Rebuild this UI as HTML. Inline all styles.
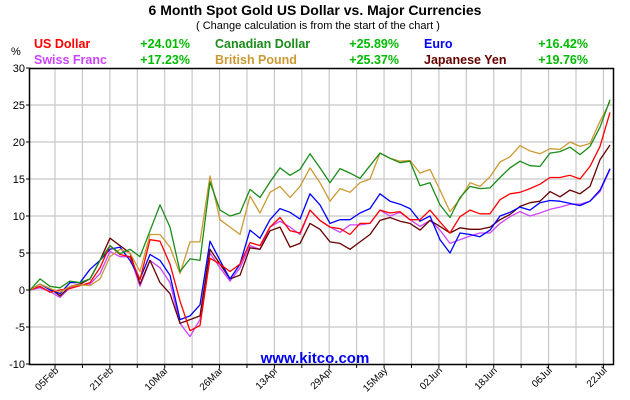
<!DOCTYPE html>
<html><head><meta charset="utf-8"><style>
body{margin:0;background:#fff;}
svg{display:block;font-family:"Liberation Sans",Arial,sans-serif;}
</style></head><body>
<svg id="chart" width="630" height="400" viewBox="0 0 630 400">
<text x="315" y="15" text-anchor="middle" font-size="14" font-weight="bold" fill="#000">6 Month Spot Gold US Dollar vs. Major Currencies</text>
<text x="318" y="29" text-anchor="middle" font-size="11" fill="#000">( Change calculation is from the start of the chart )</text>
<g font-size="12.5" font-weight="bold">
<text x="34" y="48" fill="#ff0000">US Dollar</text>
<text x="190" y="48" text-anchor="end" fill="#00bb00">+24.01%</text>
<text x="215" y="48" fill="#1a8c1a">Canadian Dollar</text>
<text x="399" y="48" text-anchor="end" fill="#00bb00">+25.89%</text>
<text x="424" y="48" fill="#0000ff">Euro</text>
<text x="588" y="48" text-anchor="end" fill="#00bb00">+16.42%</text>
<text x="34" y="64" fill="#cc44ff">Swiss Franc</text>
<text x="190" y="64" text-anchor="end" fill="#00bb00">+17.23%</text>
<text x="215" y="64" fill="#cc9933">British Pound</text>
<text x="399" y="64" text-anchor="end" fill="#00bb00">+25.37%</text>
<text x="424" y="64" fill="#660000">Japanese Yen</text>
<text x="588" y="64" text-anchor="end" fill="#00bb00">+19.76%</text>
</g>
<text x="11" y="55" font-size="11" fill="#000">%</text>
<g id="grid"></g>
<g id="series"></g>
<rect x="29.5" y="68.5" width="584" height="296" fill="none" stroke="#000" stroke-width="1.5"/>
<g id="axes"></g>
<text x="315" y="363" text-anchor="middle" font-size="15" font-weight="bold" fill="#0000ee">www.kitco.com</text>
</svg>
<script>
const yTicks = [30, 25, 20, 15, 10, 5, 0, -5, -10];
const xTickLabels = ["05Feb","21Feb","10Mar","26Mar","13Apr","29Apr","15May","02Jun","18Jun","06Jul","22Jul"];
const usd = [0,0.5,-0.3,0,0.2,0.6,1.0,3.0,6.0,4.8,4.5,1.4,6.8,6.6,3.5,-1.5,-5.5,-4.8,4.3,3.5,2.5,3.5,6.4,6,8.5,9.8,8,7.7,10.8,9.4,8.5,8.3,7.5,9,9,10.8,10.4,10.6,9.5,9.5,10.8,9.2,7.7,9.9,10.8,10.3,10.3,12.2,13,13.2,13.7,14.3,15.2,15.2,15.5,15,16.7,19.4,24];
const cad = [0,1.5,0.5,0.3,1.2,1.0,1.5,4,6,4.9,5.5,4.5,8.0,11.5,8.5,2.5,4.2,4,14.6,10.8,10,10.4,13.6,12.5,14.6,16.5,15.5,16.3,18.4,16.5,14.5,16.4,15.8,15.1,16.8,18.5,17.8,17.2,17.4,14.1,14.5,11.5,9.8,12.5,14,13.7,13.8,15.2,16.5,17.4,16.8,16.7,18.5,18.7,19.3,18.3,19.4,22,25.7];
const eur = [0,0.8,0,-0.5,1,1,2.8,4,5.5,5.8,4,1.5,4.8,4,2,-4,-3.5,-2,6.6,4,1.5,3.5,8.1,7,9.5,11,10.5,9.6,13,11.5,9,9.5,9.5,10.4,11,13,12,11.6,11,9.3,10,6.8,5,7.7,7.5,7.2,8.1,10,10.5,11.2,10.8,11.8,12.1,12,11.7,11.4,12,13.5,16.4];
const chf = [0,0.3,-0.2,-1,0.3,0.7,0.8,2.2,5.2,4.5,4.5,0.5,4,3,1,-4.5,-6.3,-4,5,3,1.2,3,6,5.5,8.5,9.3,8.5,7.5,10.8,9.4,8.5,7.8,8.8,8.8,9,10.8,10,10.5,9.5,8.6,9.4,8.1,6.3,6.8,7.3,7.7,7.7,9,9.9,10.6,10,10.4,10.9,11.2,11.6,11.6,12,13.3,16.3];
const gbp = [0,0.8,0.2,-0.3,0.5,0.7,0.6,1.5,4.5,5.5,5.0,2.5,7.5,7.5,5.8,2.2,6.5,6.5,15.4,9.5,8.5,7.5,12.7,10.4,13.2,14,12.5,14,16.5,14.5,12,13.7,13.2,14.5,15,18.5,17.8,17.4,17.5,15.8,16.3,13.5,10.6,12.3,14.5,14,15.3,17.3,18,19.5,18.8,18.4,19.1,19,20,19.4,19.8,22.8,25.4];
const jpy = [0,0.8,0.2,-0.8,0.5,0.8,1.5,4,7,6,5,0.8,4,1,-0.5,-4.5,-4,-3.5,5.5,3.5,1.5,2,5.7,5.5,8,8.5,5.8,6.3,9,8.2,6.5,6.3,5.5,6.5,7.5,9.4,9.8,9.3,9,8.1,9.4,8.6,7.7,8.4,8.2,8.2,8.5,9.5,10.2,11.3,11.8,12,13.3,12.6,13.5,13,14,17.6,19.6];

const NS = "http://www.w3.org/2000/svg";
const X0 = 30, DAY = 5, STEP = 2;
const yScale = v => 290 - v * 7.4;
const xScale = d => X0 + d * DAY;
const grid = document.getElementById("grid");
const axes = document.getElementById("axes");
function mk(tag, attrs, parent){ const e = document.createElementNS(NS, tag); for (const k in attrs) e.setAttribute(k, attrs[k]); parent.appendChild(e); return e; }

yTicks.forEach(v => {
  const y = yScale(v);
  if (v !== 30 && v !== -10) {
    const g = mk("line", {x1:30, x2:613, y1:y, y2:y, stroke:"#c8c8c8", "stroke-width":1.2}, grid);
    
    
  }
  const t = mk("line", {x1:26, x2:30, y1:y, y2:y, stroke:"#000"}, axes);
  
  
  const lbl = mk("text", {x:25, y:y + 4, "text-anchor":"end", "font-size":11, fill:"#000"}, axes);
  lbl.textContent = v;
  
  
});
for (let k = 1; k <= 21; k++) {
  const x = 27.6 + k * 27.42;
  const g = mk("line", {x1:x, x2:x, y1:69, y2:364, stroke:"#c8c8c8", "stroke-width":1.2}, grid);
  
  
  const t = mk("line", {x1:x, x2:x, y1:364, y2:368, stroke:"#000"}, axes);
  
  
}
xTickLabels.forEach((s, i) => {
  const x = 27.6 + (1 + 2 * i) * 27.42 + 4;
  const t = mk("text", {x:x, y:371, "text-anchor":"end", "font-size":10, fill:"#000", transform:`rotate(-45 ${x} 371)`}, axes);
  t.textContent = s;
  
  
});

const seriesG = document.getElementById("series");
function draw(vals, color, name){
  const pts = vals.map((v, i) => xScale(i * STEP).toFixed(1) + "," + yScale(v).toFixed(1)).join(" ");
  const p = mk("polyline", {points:pts, fill:"none", stroke:color, "stroke-width":1.3, "stroke-linejoin":"round"}, seriesG);
  
  
}
draw(chf, "#cc44ff", "series-swiss-franc");
draw(jpy, "#660000", "series-japanese-yen");
draw(eur, "#0000ff", "series-euro");
draw(usd, "#ff0000", "series-us-dollar");
draw(gbp, "#cc9933", "series-british-pound");
draw(cad, "#1a8c1a", "series-canadian-dollar");
</script>
</body></html>
